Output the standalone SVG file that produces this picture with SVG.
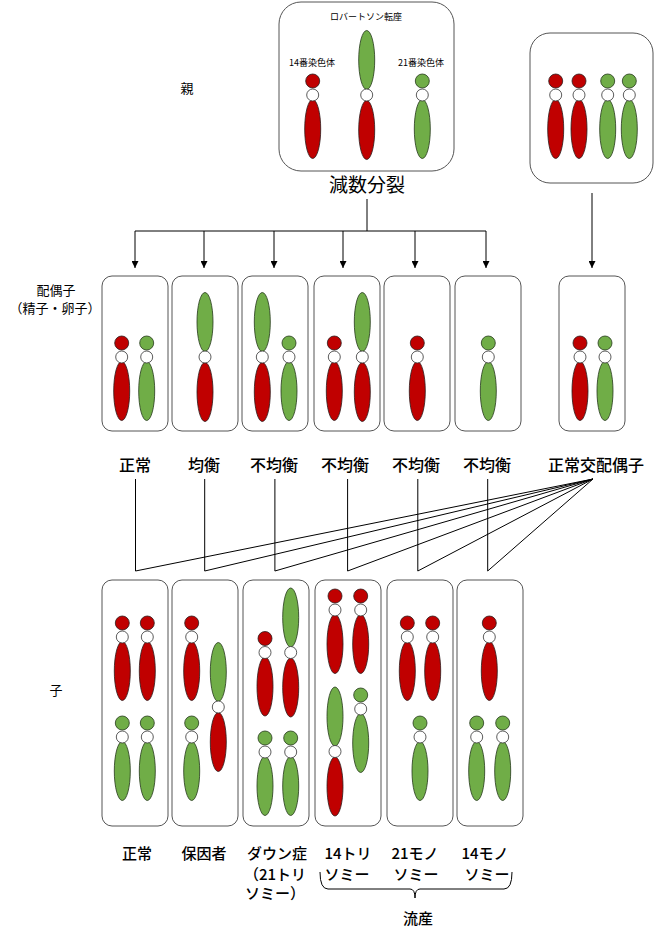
<svg xmlns="http://www.w3.org/2000/svg" xmlns:xlink="http://www.w3.org/1999/xlink" width="658" height="936" viewBox="0 0 658 936">
<style>
.r{fill:#C00000;stroke:#2b1a1a;stroke-width:0.8}
.g{fill:#70AD47;stroke:#24381a;stroke-width:0.8}
.w{fill:#fff;stroke:#333;stroke-width:0.8}
.box{fill:#fff;stroke:#555;stroke-width:1}
.ln{fill:none;stroke:#000;stroke-width:1}
text{font-family:"Noto Sans CJK JP","Noto Sans",sans-serif;fill:#000;text-anchor:middle}
.s{font-size:9px}
.m{font-size:13px}
.L{font-size:16px;font-weight:500}
.b{font-size:15px;font-weight:500}
</style>
<defs>
<g id="nr"><ellipse class="r" cx="0" cy="48" rx="8" ry="29.5"/><circle class="r" cx="0" cy="0" r="7"/><circle class="w" cx="0" cy="14" r="6"/></g>
<g id="ng"><ellipse class="g" cx="0" cy="48" rx="8" ry="29.5"/><circle class="g" cx="0" cy="0" r="7"/><circle class="w" cx="0" cy="14" r="6"/></g>
<g id="rob"><ellipse class="g" cx="0" cy="-35" rx="8" ry="29.5"/><ellipse class="r" cx="0" cy="35" rx="8" ry="29.5"/><circle class="w" cx="0" cy="0" r="6"/></g>
<marker id="ah" viewBox="0 0 10 10" refX="10" refY="5" markerWidth="7" markerHeight="7" orient="auto" markerUnits="userSpaceOnUse"><path d="M0,0L10,5L0,10z" fill="#000"/></marker>
</defs>

<g id="labels-side">
<text class="m" x="187" y="93">親</text>
<text class="m" x="56" y="295">配偶子</text>
<text class="m" x="55" y="313">（精子・卵子）</text>
<text class="m" x="56" y="695">子</text>
</g>

<g id="parent">
<rect class="box" x="279" y="2" width="175" height="169" rx="22"/>
<text class="s" x="366" y="20">ロバートソン転座</text>
<text class="s" x="312" y="66">14番染色体</text>
<text class="s" x="421" y="66">21番染色体</text>
<use xlink:href="#nr" x="312.7" y="81"/>
<use xlink:href="#rob" x="366.7" y="95"/>
<use xlink:href="#ng" x="422.3" y="81"/>
</g>
<text id="meiosis" x="367" y="192" style="font-size:19px">減数分裂</text>

<g id="partner">
<rect class="box" x="530" y="33" width="123" height="150" rx="20"/>
<use xlink:href="#nr" x="555.7" y="81"/>
<use xlink:href="#nr" x="579" y="81"/>
<use xlink:href="#ng" x="607.7" y="81"/>
<use xlink:href="#ng" x="629.3" y="81"/>
</g>

<g id="connectors">
<path class="ln" d="M367,199V231M135,231H486"/>
<path class="ln" marker-end="url(#ah)" d="M135,231V268"/>
<path class="ln" marker-end="url(#ah)" d="M204,231V268"/>
<path class="ln" marker-end="url(#ah)" d="M274,231V268"/>
<path class="ln" marker-end="url(#ah)" d="M343,231V268"/>
<path class="ln" marker-end="url(#ah)" d="M415,231V268"/>
<path class="ln" marker-end="url(#ah)" d="M486,231V268"/>
<path class="ln" marker-end="url(#ah)" d="M592,193V268"/>
<path class="ln" d="M135.5,479V571L593,479M204.7,479V571L593,479M274.9,479V571L593,479M347.6,479V571L593,479M417.8,479V571L593,479M487.7,479V571L593,479"/>
</g>

<g id="gamete1">
<rect class="box" x="102" y="276" width="66" height="155" rx="10"/>
<use xlink:href="#nr" x="121.7" y="343"/>
<use xlink:href="#ng" x="146.7" y="343"/>
</g>
<g id="gamete2">
<rect class="box" x="172" y="276" width="66" height="155" rx="10"/>
<use xlink:href="#rob" x="205" y="357"/>
</g>
<g id="gamete3">
<rect class="box" x="242" y="276" width="66" height="155" rx="10"/>
<use xlink:href="#rob" x="262.3" y="357"/>
<use xlink:href="#ng" x="289" y="343"/>
</g>
<g id="gamete4">
<rect class="box" x="314" y="276" width="66" height="155" rx="10"/>
<use xlink:href="#nr" x="334.3" y="343"/>
<use xlink:href="#rob" x="362.3" y="357"/>
</g>
<g id="gamete5">
<rect class="box" x="384" y="276" width="66" height="155" rx="10"/>
<use xlink:href="#nr" x="417.3" y="343"/>
</g>
<g id="gamete6">
<rect class="box" x="455" y="276" width="66" height="155" rx="10"/>
<use xlink:href="#ng" x="488.3" y="343"/>
</g>
<g id="gamete-normal">
<rect class="box" x="559" y="276" width="66" height="155" rx="10"/>
<use xlink:href="#nr" x="580" y="343"/>
<use xlink:href="#ng" x="605" y="343"/>
</g>

<g id="gamete-labels">
<text class="L" x="135" y="471">正常</text>
<text class="L" x="204" y="471">均衡</text>
<text class="L" x="274" y="471">不均衡</text>
<text class="L" x="345" y="471">不均衡</text>
<text class="L" x="416" y="471">不均衡</text>
<text class="L" x="487" y="471">不均衡</text>
<text class="L" x="596" y="471">正常交配偶子</text>
</g>

<g id="child1">
<rect class="box" x="102" y="580" width="66" height="246" rx="10"/>
<use xlink:href="#nr" x="122.3" y="623"/>
<use xlink:href="#nr" x="147.3" y="623"/>
<use xlink:href="#ng" x="122.3" y="723"/>
<use xlink:href="#ng" x="147.3" y="723"/>
</g>
<g id="child2">
<rect class="box" x="172" y="580" width="66" height="246" rx="10"/>
<use xlink:href="#nr" x="191.7" y="623"/>
<use xlink:href="#ng" x="191.7" y="723"/>
<use xlink:href="#rob" x="218.3" y="707"/>
</g>
<g id="child3">
<rect class="box" x="243" y="580" width="66" height="246" rx="10"/>
<use xlink:href="#nr" x="265" y="638.5"/>
<use xlink:href="#rob" x="290.7" y="652.5"/>
<use xlink:href="#ng" x="265" y="738"/>
<use xlink:href="#ng" x="290.7" y="738"/>
</g>
<g id="child4">
<rect class="box" x="315" y="580" width="66" height="246" rx="10"/>
<use xlink:href="#nr" x="335" y="596"/>
<use xlink:href="#nr" x="360.7" y="596"/>
<use xlink:href="#rob" x="335" y="751.5"/>
<use xlink:href="#ng" x="360.7" y="695"/>
</g>
<g id="child5">
<rect class="box" x="387" y="580" width="66" height="246" rx="10"/>
<use xlink:href="#nr" x="407.3" y="623"/>
<use xlink:href="#nr" x="432.7" y="623"/>
<use xlink:href="#ng" x="420" y="723"/>
</g>
<g id="child6">
<rect class="box" x="457" y="580" width="66" height="246" rx="10"/>
<use xlink:href="#nr" x="489.3" y="623"/>
<use xlink:href="#ng" x="476.7" y="723"/>
<use xlink:href="#ng" x="502.7" y="723"/>
</g>

<g id="child-labels">
<text class="b" x="137" y="859">正常</text>
<text class="b" x="204" y="859">保因者</text>
<text class="b" x="277" y="859">ダウン症</text>
<text class="b" x="275" y="880">（21トリ</text>
<text class="b" x="275" y="899">ソミー）</text>
<text class="b" x="348" y="859">14トリ</text>
<text class="b" x="347" y="880">ソミー</text>
<text class="b" x="415" y="859">21モノ</text>
<text class="b" x="416" y="880">ソミー</text>
<text class="b" x="485" y="859">14モノ</text>
<text class="b" x="487" y="880">ソミー</text>
<path class="ln" d="M320,872Q320,889,328,889H410Q415,889,415,898Q415,889,420,889H504Q512,889,512,872" stroke-width="0.8"/>
<text class="b" x="418" y="924">流産</text>
</g>
</svg>
